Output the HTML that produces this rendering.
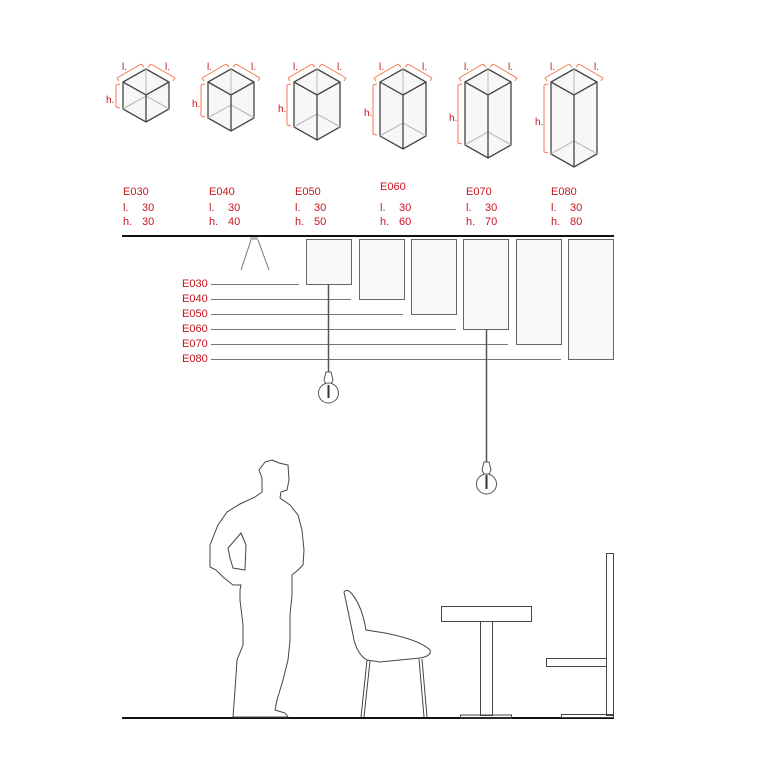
<!DOCTYPE html>
<html><head><meta charset="utf-8"><style>
html,body{margin:0;padding:0;background:#fff;}
svg{display:block;}
text{font-family:"Liberation Sans",Arial,sans-serif;}
.r{fill:#c8141e;font-size:11px;}
.o{fill:#c8141e;font-size:10px;}
</style></head><body>
<svg id="s" width="780" height="780" viewBox="0 0 780 780" xmlns="http://www.w3.org/2000/svg">
<g id="cubes"></g>
<g class="r">
<text x="123" y="195">E030</text><text x="123" y="211">l.</text><text x="142" y="211">30</text><text x="123" y="225">h.</text><text x="142" y="225">30</text>
<text x="209" y="195">E040</text><text x="209" y="211">l.</text><text x="228" y="211">30</text><text x="209" y="225">h.</text><text x="228" y="225">40</text>
<text x="295" y="195">E050</text><text x="295" y="211">l.</text><text x="314" y="211">30</text><text x="295" y="225">h.</text><text x="314" y="225">50</text>
<text x="380" y="190">E060</text><text x="380" y="211">l.</text><text x="399" y="211">30</text><text x="380" y="225">h.</text><text x="399" y="225">60</text>
<text x="466" y="195">E070</text><text x="466" y="211">l.</text><text x="485" y="211">30</text><text x="466" y="225">h.</text><text x="485" y="225">70</text>
<text x="551" y="195">E080</text><text x="551" y="211">l.</text><text x="570" y="211">30</text><text x="551" y="225">h.</text><text x="570" y="225">80</text>
</g>
<line x1="122" y1="236" x2="614" y2="236" stroke="#111" stroke-width="2"/>
<rect x="250" y="237" width="8" height="3" fill="#bbb"/>
<line x1="251" y1="240" x2="241" y2="270" stroke="#777" stroke-width="1"/>
<line x1="258" y1="240" x2="269" y2="270" stroke="#777" stroke-width="1"/>
<g fill="#f8f8f8" stroke="#666" stroke-width="1">
<rect x="306.5" y="239.5" width="45" height="45"/>
<rect x="359.5" y="239.5" width="45" height="60"/>
<rect x="411.5" y="239.5" width="45" height="75"/>
<rect x="463.5" y="239.5" width="45" height="90"/>
<rect x="516.5" y="239.5" width="45" height="105"/>
<rect x="568.5" y="239.5" width="45" height="120"/>
</g>
<g stroke="#777" stroke-width="1">
<line x1="211" y1="284.5" x2="299" y2="284.5"/>
<line x1="211" y1="299.5" x2="351" y2="299.5"/>
<line x1="211" y1="314.5" x2="403" y2="314.5"/>
<line x1="211" y1="329.5" x2="456" y2="329.5"/>
<line x1="211" y1="344.5" x2="508" y2="344.5"/>
<line x1="211" y1="359.5" x2="561" y2="359.5"/>
</g>
<g class="r"><text x="182" y="287">E030</text><text x="182" y="302">E040</text><text x="182" y="317">E050</text><text x="182" y="332">E060</text><text x="182" y="347">E070</text><text x="182" y="362">E080</text></g>
<g stroke="#555" fill="none">
<line x1="328.5" y1="284" x2="328.5" y2="372" stroke-width="1.5"/>
<path d="M326 372 L331 372 L333 380 L331 384 L326 384 L324 380 Z" fill="#fff"/>
<circle cx="328.5" cy="393" r="10" fill="#fff"/>
<line x1="328.5" y1="385" x2="328.5" y2="398" stroke="#333" stroke-width="2"/>
<line x1="486.5" y1="329" x2="486.5" y2="462" stroke-width="1.5"/>
<path d="M484 462 L489 462 L491 470 L489 474 L484 474 L482 470 Z" fill="#fff"/>
<circle cx="486.5" cy="484" r="10" fill="#fff"/>
<line x1="486.5" y1="475" x2="486.5" y2="489" stroke="#333" stroke-width="2"/>
</g>
<line x1="122" y1="718" x2="614" y2="718" stroke="#111" stroke-width="2"/>
<g fill="none" stroke="#444" stroke-width="1">
<polygon points="272,460 279,463 288,465 289,480 287,490 281,492 280,498 290,505 298,515 302,530 304,550 303,565 298,570 292,575 292,595 290,615 290,640 288,660 283,680 277,700 275,710 285,713 288,717 233,717 235,690 237,660 243,645 243,625 240,600 240,590 241,585 233,585 223,577 216,570 210,567 210,545 218,525 227,512 240,504 255,497 262,492 262,478 259,470 265,462"/>
<polygon points="241,533 246,545 245,570 233,568 230,558 228,548"/>
<path d="M344,592 Q347,588 352,594 Q362,606 366,630 L385,633 Q420,640 430,650 Q432,656 420,658 L380,662 L367,660 Q358,655 354,640 Q350,620 344,592 Z"/>
<path d="M367,660 L361,717 M370,661 L364,717 M422,659 L427,717 M419,659 L424,717"/>
<rect x="441.5" y="606.5" width="90" height="15"/>
<rect x="480.5" y="621.5" width="12" height="94"/>
<rect x="460.5" y="715" width="51" height="3"/>
<rect x="606.5" y="553.5" width="7" height="162"/>
<rect x="546.5" y="658.5" width="60" height="8"/>
<rect x="561.5" y="714.5" width="52" height="3"/>
</g>
<g class="o">
<text x="122" y="70">l.</text><text x="165" y="70">l.</text><text x="106" y="103">h.</text>
<text x="207" y="70">l.</text><text x="251" y="70">l.</text><text x="192" y="107">h.</text>
<text x="293" y="70">l.</text><text x="337" y="70">l.</text><text x="278" y="112">h.</text>
<text x="379" y="70">l.</text><text x="422" y="70">l.</text><text x="364" y="116">h.</text>
<text x="464" y="70">l.</text><text x="508" y="70">l.</text><text x="449" y="121">h.</text>
<text x="550" y="70">l.</text><text x="594" y="70">l.</text><text x="535" y="125">h.</text>
</g>
</svg>
<script>
var g=document.getElementById('cubes'),ns='http://www.w3.org/2000/svg';
function el(t,a){var e=document.createElementNS(ns,t);for(var k in a)e.setAttribute(k,a[k]);g.appendChild(e);}
var cx=[146,231,317,403,488,574];
for(var i=0;i<6;i++){var c=cx[i],h=27+9*i;
 var T=[c,69],L=[c-23,82],R=[c+23,82],C=[c,95],LB=[c-23,82+h],RB=[c+23,82+h],CB=[c,95+h],BB=[c,69+h];
 function p(a){return a.join(',');}
 el('polygon',{points:[T,R,RB,CB,LB,L].map(p).join(' '),fill:'#f7f7f7',stroke:'#444','stroke-width':1.3});
 el('path',{d:'M'+p(T)+' L'+p(BB)+' M'+p(LB)+' L'+p(BB)+' L'+p(RB)+' M'+(c-20)+','+(82+h-2)+' L'+c+','+(71+h-2)+' L'+(c+20)+','+(82+h-2),fill:'none',stroke:'#bbb','stroke-width':1});
 el('path',{d:'M'+p(L)+' L'+p(C)+' L'+p(R)+' M'+p(C)+' L'+p(CB),fill:'none',stroke:'#444','stroke-width':1.3});
 el('path',{d:'M'+(c-29)+',78 L'+(c-5)+',64 M'+(c-29)+',78 l2,3 M'+(c-5)+',64 l3,3 M'+(c+5)+',64 L'+(c+29)+',78 M'+(c+5)+',64 l-3,3 M'+(c+29)+',78 l-2,3 M'+(c-30)+',85 L'+(c-30)+','+(80+h)+' M'+(c-30)+',85 l4,-1 M'+(c-30)+','+(80+h)+' l4,1',fill:'none',stroke:'#f07850','stroke-width':1});
}
</script>
</body></html>
